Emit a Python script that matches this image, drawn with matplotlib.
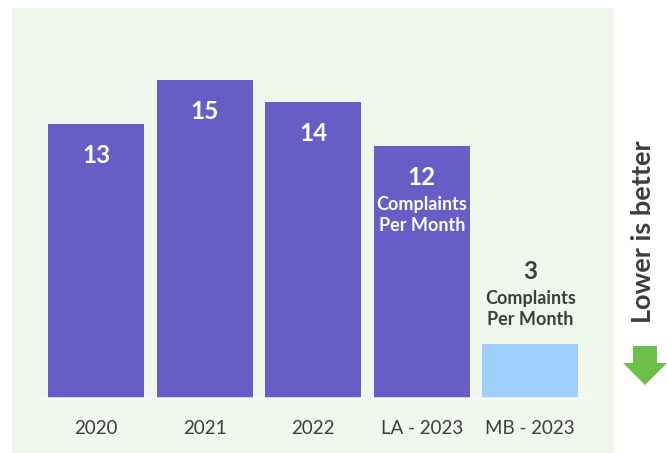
import matplotlib.pyplot as plt
import matplotlib.patches as mpatches

categories = ['2020', '2021', '2022', 'LA - 2023', 'MB - 2023']
values = [13, 15, 14, 12, 3]
sublabels = ['', '', '', 'Complaints\nPer Month', 'Complaints\nPer Month']

PURPLE = '#675dc6'
LIGHT_BLUE = '#9dd0ff'
PANEL = '#f0f7ec'
DARK = '#3d3d3d'
GREEN = '#6cc04a'

plt.rcParams['font.family'] = ['Lato', 'DejaVu Sans']

fig = plt.figure(figsize=(6.67, 4.53), dpi=100)
W, H = 667, 453

# light green panel behind the chart
fig.patches.append(mpatches.Rectangle((12 / W, 0), 602 / W, 445 / H,
                                      transform=fig.transFigure,
                                      facecolor=PANEL, edgecolor='none', zorder=0))

ax = fig.add_axes([42 / W, 55 / H, 542.5 / W, 390 / H])
ax.set_facecolor('none')
ax.set_zorder(2)

colors = [PURPLE] * (len(values) - 1) + [LIGHT_BLUE]
bars = ax.bar(range(len(values)), values, width=0.885, color=colors, zorder=2)

ax.set_xlim(-0.5, len(values) - 0.5)
ax.set_ylim(0.545, 0.545 + 390 / 22)

for i, (b, v, sub) in enumerate(zip(bars, values, sublabels)):
    x = b.get_x() + b.get_width() / 2
    if i < len(values) - 1:
        ax.annotate(str(v), (x, v), xytext=(0, -22.5), textcoords='offset points',
                    ha='center', va='center', color='white', fontsize=17.5, fontweight='bold')
        if sub:
            ax.annotate(sub, (x, v), xytext=(0, -49.5), textcoords='offset points',
                        ha='center', va='center', color='white', fontsize=13,
                        fontweight='bold', linespacing=1.3)
    else:
        ax.annotate(str(v), (x, v), xytext=(0, 52), textcoords='offset points',
                    ha='center', va='center', color=DARK, fontsize=17.5, fontweight='bold')
        ax.annotate(sub, (x, v), xytext=(0, 25), textcoords='offset points',
                    ha='center', va='center', color=DARK, fontsize=13,
                    fontweight='bold', linespacing=1.3)

ax.set_xticks(range(len(values)))
ax.set_xticklabels(categories, fontsize=13.5, color=DARK)
ax.tick_params(axis='x', length=0, pad=16)
ax.set_yticks([])
for s in ['top', 'left', 'right']:
    ax.spines[s].set_visible(False)
ax.spines['bottom'].set_color('#fafafa')
ax.spines['bottom'].set_linewidth(1.8)

# "Lower is better" note with arrow
fig.text(6.43 / 6.67, 2.21 / 4.53, 'Lower is better', rotation=90, ha='center', va='center',
         fontsize=19.5, fontweight='bold', color=DARK)
fig.patches.append(mpatches.FancyArrow(6.45, 1.07, 0, -0.39, width=0.24, head_width=0.44,
                                       head_length=0.22, length_includes_head=True,
                                       transform=fig.dpi_scale_trans,
                                       facecolor=GREEN, edgecolor='none'))

fig.savefig('out.png', dpi=100)
